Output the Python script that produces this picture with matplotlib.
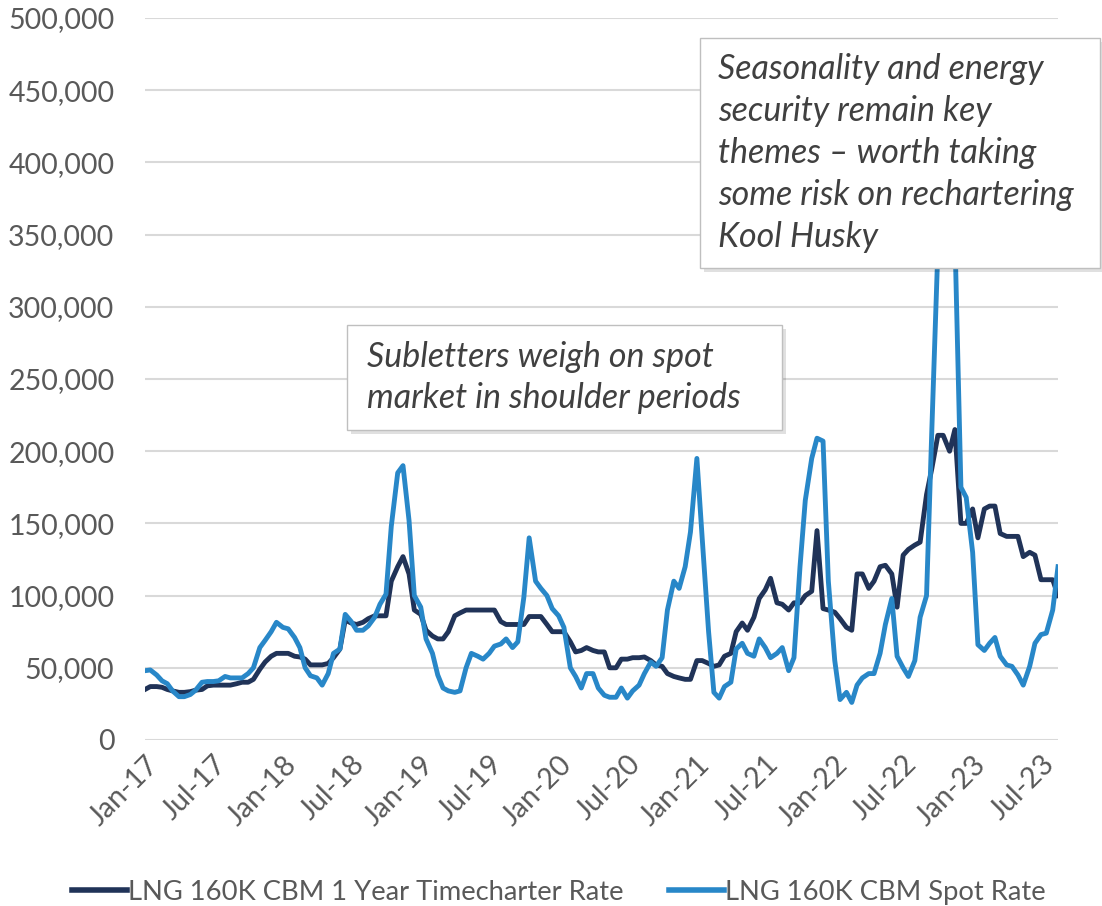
import matplotlib
matplotlib.use("Agg")
import matplotlib.pyplot as plt
import matplotlib.dates as mdates
from matplotlib.patches import Rectangle
from matplotlib.ticker import FuncFormatter, MultipleLocator
import pandas as pd

# Semi-monthly observations (1st and 15th of each month), Jan-2017 .. Aug-2023, in $/day
timecharter_k = [
    35, 37, 37, 36.5, 35, 34, 33, 33, 33.5, 34.5, 35, 37.5, 38, 38, 38, 38, 39, 40, 40, 42,
    49, 54, 58, 60, 60, 60, 58, 57.5, 56, 52, 52, 52, 53, 57, 63, 83, 81, 80, 81.5, 84,
    86, 86, 86, 110, 120, 127, 115, 90, 87, 76, 72, 70, 70, 75, 86, 88, 90, 90, 90, 90,
    90, 90, 82, 80, 80, 80, 80, 85.5, 85.5, 85.5, 80, 75, 75, 75, 68, 61, 62, 64, 62, 61,
    61, 50, 50, 56, 56, 57, 57, 57.5, 55, 52, 51, 46, 44, 43, 42, 42, 55, 55, 53, 51,
    52, 58, 60, 75, 81, 76, 85, 98, 104, 112, 95, 94, 90, 95, 95, 100, 103, 145, 91, 90,
    88.5, 84, 78, 76, 115, 115, 105, 110, 120, 121, 115, 92, 128, 132, 135, 137, 170, 188, 211, 211,
    200, 215, 150, 150, 160, 140, 160, 162, 162, 143, 141, 141, 141, 127, 130, 128, 111, 111, 111, 100,
]
spot_k = [
    48, 48.5, 45, 41, 39, 34, 30, 30, 31.5, 34.5, 40, 40.5, 40.5, 41, 44, 43, 43, 43, 46, 50,
    64, 69, 75, 81.5, 78, 77, 71, 64, 50, 44.5, 43, 38, 46, 60, 63, 87, 82, 76, 76, 79,
    85, 94, 101, 148, 185, 190, 152, 100, 92, 70, 60, 45, 36, 34, 33, 34, 50, 60, 58, 56,
    60, 65, 66.5, 70, 64, 68, 99, 140, 110, 105, 100, 91, 86, 78, 50, 44, 36, 46, 46, 36,
    31, 29.6, 29.6, 36, 29, 34, 38, 46, 54, 51, 57, 90, 110, 105, 120, 144, 195, 140, 75, 33,
    29, 37, 40, 63, 67, 60, 58, 70, 64, 57, 60, 64, 48, 57, 120, 166, 195, 209, 207, 110,
    55, 28, 33, 26, 38, 43, 46, 46, 60, 80, 98, 58, 50, 44, 55, 85, 100, 215, 340, 430,
    450, 350, 175, 168, 130, 66, 62, 67, 71, 58, 52, 51, 45, 38, 51, 67, 73, 74, 90, 120,
]
series_names = ["LNG 160K CBM 1 Year Timecharter Rate", "LNG 160K CBM Spot Rate"]
note_left = "Subletters weigh on spot\nmarket in shoulder periods"
note_right = ("Seasonality and energy\nsecurity remain key\nthemes \u2013 worth taking\n"
              "some risk on rechartering\nKool Husky")

dates = pd.date_range("2017-01-01", periods=len(spot_k), freq="SMS")
tc = [v * 1000 for v in timecharter_k]
sp = [v * 1000 for v in spot_k]

FONT = "Lato"
GRAY = "#595959"
plt.rcParams["font.family"] = [FONT, "DejaVu Sans"]

fig = plt.figure(figsize=(11.02, 9.06), dpi=100)
ax = fig.add_axes([145 / 1102, 1 - 740 / 906, (1058 - 145) / 1102, (740 - 18) / 906])

ax.plot(dates, tc, color="#203358", lw=3.5, solid_joinstyle="round", label=series_names[0], zorder=3)
ax.plot(dates, sp, color="#2887C8", lw=3.5, solid_joinstyle="round", label=series_names[1], zorder=4)

ax.set_ylim(0, 500000)
ax.set_xlim(dates[0], dates[-1])
ax.yaxis.set_major_locator(MultipleLocator(50000))
ax.yaxis.set_major_formatter(FuncFormatter(lambda v, p: f"{int(v):,}"))
ax.grid(axis="y", color="#D9D9D9", lw=1.5)
ax.set_axisbelow(True)
for s in ax.spines.values():
    s.set_visible(False)

ax.xaxis.set_major_locator(mdates.MonthLocator(bymonth=[1, 7]))
ax.xaxis.set_major_formatter(mdates.DateFormatter("%b-%y"))
ax.tick_params(axis="both", length=0, colors=GRAY, labelsize=20.5)
ax.tick_params(axis="y", pad=22)
ax.tick_params(axis="x", pad=8)
for lab in ax.get_xticklabels():
    lab.set_rotation(45)
    lab.set_ha("right")
    lab.set_rotation_mode("anchor")

# Legend
leg = fig.legend(loc="lower center", bbox_to_anchor=(0.507, -0.026), ncol=2, frameon=False,
                 fontsize=19.7, handlelength=2.0, handletextpad=0.05, columnspacing=1.66,
                 labelcolor=GRAY)
for h in leg.get_lines():
    h.set_linewidth(4.0)


def note_box(x0, y0, x1, y1, text, tx):
    W, H = 1102, 906
    shadow = Rectangle(((x0 + 4) / W, 1 - (y1 + 4) / H), (x1 - x0) / W, (y1 - y0) / H,
                       transform=fig.transFigure, facecolor="#000000", alpha=0.12,
                       edgecolor="none", zorder=10)
    box = Rectangle((x0 / W, 1 - y1 / H), (x1 - x0) / W, (y1 - y0) / H,
                    transform=fig.transFigure, facecolor="white", edgecolor="#BFBFBF",
                    lw=1.0, zorder=11)
    fig.add_artist(shadow)
    fig.add_artist(box)
    fig.text(tx / W, 1 - (y0 + y1) / 2 / H, text, ha="left", va="center",
             fontsize=24.5, style="italic", color="#404040", linespacing=1.38, zorder=12)


note_box(347, 325, 782, 430, note_left, 367)
note_box(700, 38, 1100, 268, note_right, 718)

fig.savefig("out.png", dpi=100)
